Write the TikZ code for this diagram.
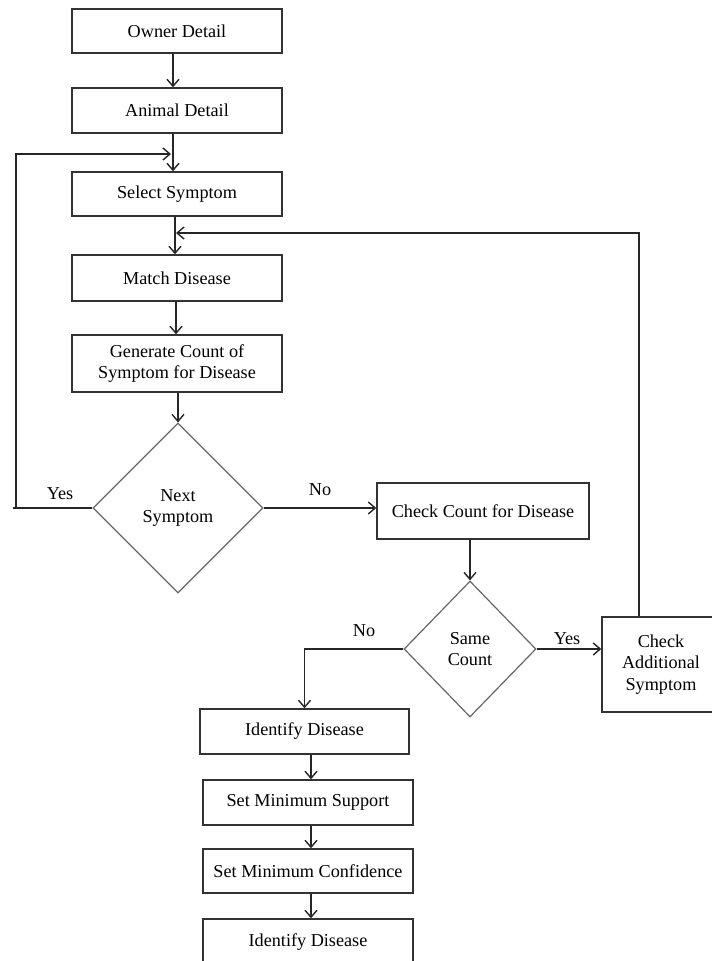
\documentclass[tikz,border=0pt]{standalone}
\usepackage{fontspec}
\setmainfont{Liberation Serif}
\usetikzlibrary{shapes.geometric,arrows.meta}
\begin{document}
\begin{tikzpicture}[x=1pt,y=-1pt,
  txt/.style={font=\fontsize{18.2}{21.5}\selectfont},
  box/.style={txt,draw=black!80,line width=1.4pt,rectangle,inner sep=0pt,align=center},
  dia/.style={txt,draw=black!60,line width=1.2pt,diamond,inner sep=0pt,align=center},
  conn/.style={line width=1.4pt,draw=black!85},
  arr/.style={conn,-{Straight Barb[length=7pt,width=12pt,line width=1.4pt]}},
  lbl/.style={txt}]
\useasboundingbox (0,0) rectangle (712,961);
\clip (0,0) rectangle (712,961);
% boxes
\node[box,minimum width=210,minimum height=44] (owner) at (177,31) {Owner Detail};
\node[box,minimum width=210,minimum height=45] (animal) at (177,110.5) {Animal Detail};
\node[box,minimum width=210,minimum height=44] (select) at (177,194) {Select Symptom};
\node[box,minimum width=210,minimum height=46] (match) at (177,278) {Match Disease};
\node[box,minimum width=210,minimum height=57] (generate) at (177,363.5) {Generate Count of\\Symptom for Disease};
\node[dia,minimum width=170,minimum height=170] (next) at (178,508) {Next\\Symptom};
\node[box,minimum width=212,minimum height=56] (checkcount) at (483,511) {Check Count for Disease};
\node[dia,minimum width=132,minimum height=136] (same) at (470,649) {Same\\Count};
\node[box,minimum width=118,minimum height=95] (checkadd) at (661,664.5) {Check\\Additional\\Symptom};
\node[box,minimum width=209,minimum height=45] (ident1) at (304.5,731.5) {Identify Disease};
\node[box,minimum width=210,minimum height=45] (setsup) at (308,802.5) {Set Minimum Support};
\node[box,minimum width=210,minimum height=44] (setconf) at (308,871) {Set Minimum Confidence};
\node[box,minimum width=210,minimum height=46] (ident2) at (308,942) {Identify Disease};
% helper coordinates
\coordinate (fbl) at (16,154);
\coordinate (fbltip) at (171,154);
\coordinate (fbr) at (639,233);
\coordinate (fbrtip) at (176,233);
\coordinate (yesend) at (13,508);
% connectors
\draw[arr] ([xshift=-4]owner.south) -- ([xshift=-4]animal.north);
\draw[arr] ([xshift=-4]animal.south) -- ([xshift=-4]select.north);
\draw[arr] ([xshift=-2]select.south) -- ([xshift=-2]match.north);
\draw[arr] ([xshift=-1]match.south) -- ([xshift=-1]generate.north);
\draw[arr] (next.north |- generate.south) -- (next.north);
\draw[conn] (next.west) -- (yesend);
\draw[arr] (next.west -| fbl) -- (fbl) -- (fbltip);
\draw[arr] (next.east) -- (next.east -| checkcount.west);
\draw[arr] (same.north |- checkcount.south) -- (same.north);
\draw[arr] (same.east) -- (same.east -| checkadd.west);
\draw[arr] (checkadd.north -| fbr) -- (fbr) -- (fbrtip);
\draw[arr] (same.west) -| (ident1.north);
\draw[arr] ([xshift=6.5]ident1.south) -- ([xshift=3]setsup.north);
\draw[arr] ([xshift=3]setsup.south) -- ([xshift=3]setconf.north);
\draw[arr] ([xshift=3]setconf.south) -- ([xshift=3]ident2.north);
% labels
\node[lbl] (yes1) at (60,494) {Yes};
\node[lbl] (no1) at (320,490) {No};
\node[lbl] (no2) at (364,631) {No};
\node[lbl] (yes2) at (567,639) {Yes};
\end{tikzpicture}
\end{document}
